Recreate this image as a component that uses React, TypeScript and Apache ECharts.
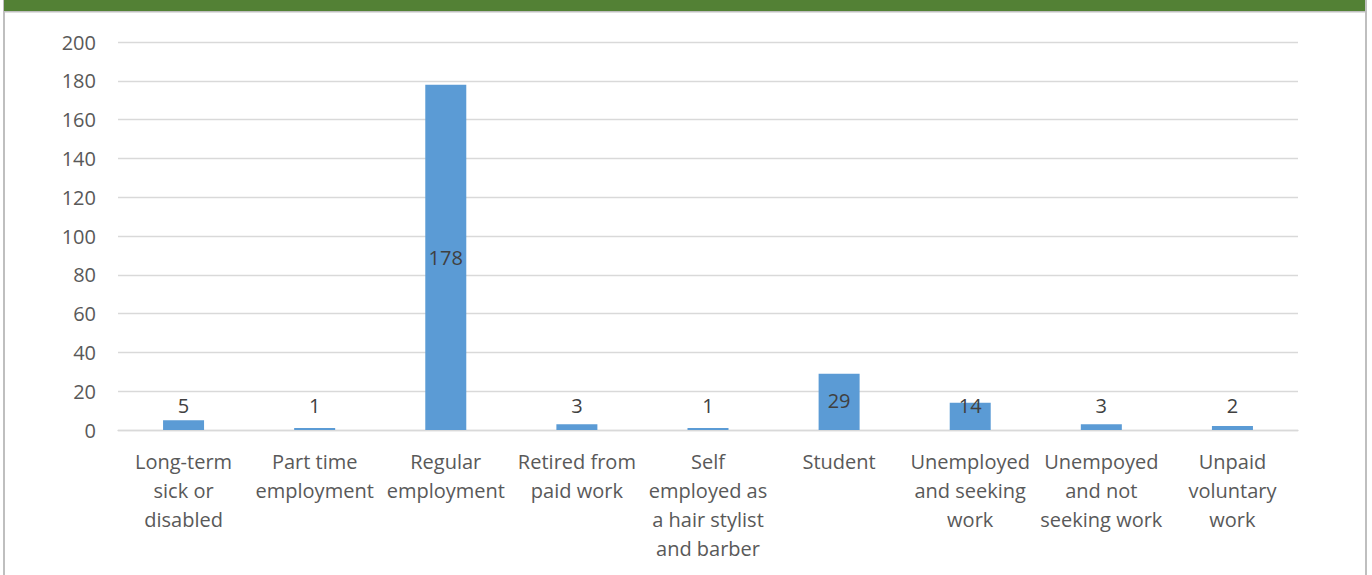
import React, { useEffect, useRef } from "react";
import * as echarts from "echarts";

const categories = [
  "Long-term\nsick or\ndisabled",
  "Part time\nemployment",
  "Regular\nemployment",
  "Retired from\npaid work",
  "Self\nemployed as\na hair stylist\nand barber",
  "Student",
  "Unemployed\nand seeking\nwork",
  "Unempoyed\nand not\nseeking work",
  "Unpaid\nvoluntary\nwork",
];
const values = [5, 1, 178, 3, 1, 29, 14, 3, 2];

export default function App() {
  const ref = useRef<HTMLDivElement>(null);
  useEffect(() => {
    const chart = echarts.init(ref.current!, null, { renderer: "svg" });
    const font = "'Open Sans', Lato, sans-serif";
    const data = values.map((v) => {
      if (v > 100) {
        return { value: v, label: { position: "inside" } };
      }
      if (v > 20) {
        return { value: v, label: { position: "insideBottom", distance: 20 } };
      }
      return { value: v, label: { position: "insideBottom", distance: 15 } };
    });
    chart.setOption({
      animation: false,
      backgroundColor: "#ffffff",
      grid: { left: 118, right: 74, top: 42, bottom: 145 },
      xAxis: {
        type: "category",
        data: categories,
        axisLine: { lineStyle: { color: "#d9d9d9", width: 1.3 } },
        axisTick: { show: false },
        axisLabel: {
          interval: 0,
          color: "#595959",
          fontSize: 20,
          fontFamily: font,
          lineHeight: 29,
          margin: 17,
        },
      },
      yAxis: {
        type: "value",
        min: 0,
        max: 200,
        interval: 20,
        axisLine: { show: false },
        axisTick: { show: false },
        splitLine: { lineStyle: { color: "#d9d9d9", width: 1.3 } },
        axisLabel: {
          color: "#595959",
          fontSize: 20,
          fontFamily: font,
          margin: 22,
        },
      },
      series: [
        {
          type: "bar",
          data,
          barWidth: 41,
          itemStyle: { color: "#5b9bd5" },
          label: {
            show: true,
            color: "#404040",
            fontSize: 20,
            fontFamily: font,
          },
        },
      ],
      graphic: [
        { type: "rect", shape: { x: 3, y: 0, width: 2, height: 575 }, style: { fill: "#bfbfbf" }, silent: true },
        { type: "rect", shape: { x: 1365, y: 0, width: 2, height: 575 }, style: { fill: "#bfbfbf" }, silent: true },
        { type: "rect", shape: { x: 4, y: 0, width: 1361, height: 11 }, style: { fill: "#538135" }, silent: true },
        { type: "rect", shape: { x: 4, y: 11, width: 1361, height: 1.5 }, style: { fill: "#bfbfbf" }, silent: true },
      ],
    });
    return () => chart.dispose();
  }, []);
  return (
    <div
      ref={ref}
      style={{ position: "fixed", left: 0, top: 0, width: 1372, height: 575 }}
    />
  );
}
